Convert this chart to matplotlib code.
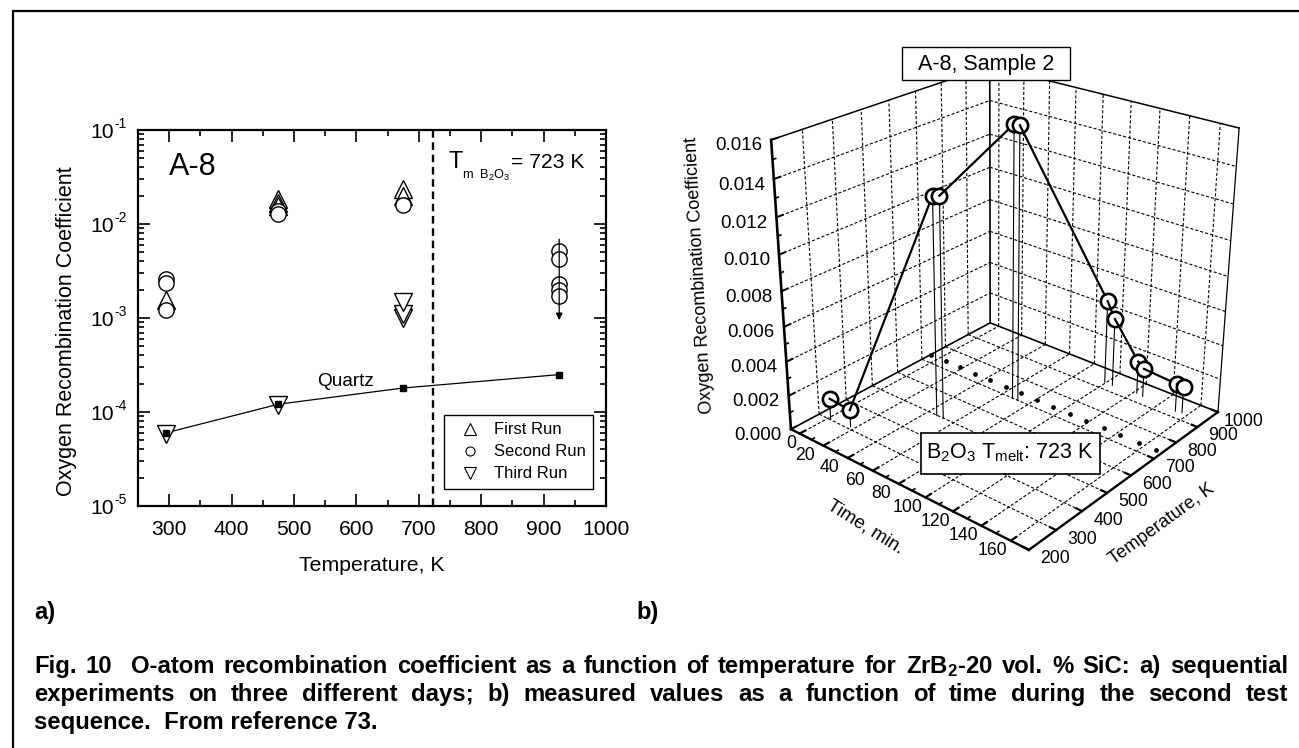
import numpy as np
import matplotlib
matplotlib.use('Agg')
import matplotlib.pyplot as plt
from matplotlib.lines import Line2D
from matplotlib.ticker import FixedLocator, NullFormatter, FuncFormatter

plt.rcParams['font.family'] = ['Liberation Sans', 'DejaVu Sans']
plt.rcParams['mathtext.fontset'] = 'custom'
plt.rcParams['mathtext.rm'] = 'Liberation Sans'
plt.rcParams['mathtext.it'] = 'Liberation Sans'
plt.rcParams['mathtext.bf'] = 'Liberation Sans:bold'
plt.rcParams['mathtext.default'] = 'regular'

# panel a)
first_t = [295, 475, 475, 475, 675, 675]
first_g = [1.57e-3, 1.83e-2, 1.69e-2, 1.55e-2, 2.37e-2, 1.98e-2]
second_t = [295, 295, 295, 475, 475, 675, 925, 925, 925, 925, 925]
second_g = [2.58e-3, 2.34e-3, 1.23e-3, 1.37e-2, 1.29e-2, 1.59e-2,
            5.16e-3, 4.27e-3, 2.28e-3, 1.98e-3, 1.71e-3]
third_t = [295, 475, 675, 675, 675]
third_g = [5.9e-5, 1.18e-4, 1.0e-3, 1.09e-3, 1.47e-3]
quartz_t = [295, 475, 675, 925]
quartz_g = [6.0e-5, 1.21e-4, 1.8e-4, 2.5e-4]
melt_temp = 723

# panel b)
seq_time = [2, 17, 47, 52, 68, 72, 99, 105, 122, 127, 152, 156]
seq_temp = [302, 310, 498, 499, 700, 701, 934, 933, 942, 938, 930, 935]
seq_gamma = [0.00125, 0.0010, 0.0126, 0.0127, 0.0157, 0.0157,
             0.0050, 0.0041, 0.00195, 0.0017, 0.00165, 0.00155]
melt_time = [-7, 6, 18, 31, 43, 56, 68, 81, 93, 106, 118, 131, 143, 156, 168]
melt_line = [735] * len(melt_time)
time_ticks = [0, 20, 40, 60, 80, 100, 120, 140, 160]
temp_ticks = [200, 300, 400, 500, 600, 700, 800, 900, 1000]
gamma_ticks = [0.000, 0.002, 0.004, 0.006, 0.008, 0.010, 0.012, 0.014, 0.016]

W, H = 1299, 748
fig = plt.figure(figsize=(W / 100, H / 100), dpi=100)

# pixel overlay for the frame, the captions and the 3d panel
pix = fig.add_axes([0, 0, 1, 1], zorder=1)
pix.set_xlim(0, W)
pix.set_ylim(H, 0)
pix.axis('off')
pix.patch.set_alpha(0)

pix.plot([13, 13, W], [H, 11, 11], color='k', lw=1.6, solid_joinstyle='miter')

# ---- a)
left, right, top, bottom = 138, 606, 130, 506
ax = fig.add_axes([left / W, 1 - bottom / H, (right - left) / W, (bottom - top) / H], zorder=2)
ax.patch.set_alpha(0)
ax.set_yscale('log')
ax.set_xlim(250, 1000)
ax.set_ylim(1e-5, 1e-1)
for s in ax.spines.values():
    s.set_linewidth(1.6)
decades = [1e-5, 1e-4, 1e-3, 1e-2, 1e-1]
ax.xaxis.set_major_locator(FixedLocator(range(300, 1001, 100)))
ax.xaxis.set_minor_locator(FixedLocator(range(250, 1001, 100)))
ax.yaxis.set_major_locator(FixedLocator(decades))
ax.yaxis.set_minor_locator(FixedLocator(
    [m * 10.0 ** e for e in range(-5, -1) for m in range(2, 10)]))
ax.yaxis.set_minor_formatter(NullFormatter())
ax.yaxis.set_major_formatter(FuncFormatter(lambda v, _: '10'))
ax.tick_params(which='major', direction='in', top=True, right=True,
               length=8.4, width=1.2, labelsize=15.2)
ax.tick_params(which='minor', direction='in', top=True, right=True,
               length=4.5, width=1.2)
ax.tick_params(axis='x', which='major', pad=10)
ax.tick_params(axis='y', which='major', pad=17)
for v in decades:
    ax.annotate('-%d' % round(-np.log10(v)), xy=(0, v), xycoords=('axes fraction', 'data'),
                xytext=(-24, 6), textcoords='offset pixels', fontsize=10,
                ha='left', va='center')
ax.set_xlabel('Temperature, K', fontsize=15.3)
ax.xaxis.set_label_coords(0.5, -(556 - bottom) / (bottom - top))
ax.set_ylabel('Oxygen Recombination Coefficient', fontsize=15.5)
ax.yaxis.set_label_coords(-(left - 77) / (right - left), (bottom - 331) / (bottom - top))

ax.plot(quartz_t, quartz_g, color='k', lw=0.9)
ax.plot(first_t, first_g, ls='', marker='^', ms=13.5, mfc='none', mec='k', mew=1)
for x, y in zip(second_t, second_g):
    ax.plot(x, y, ls='', marker='o', ms=11, mfc='w', mec='k', mew=1)
for x, y in zip(third_t, third_g):
    ax.plot(x, y, ls='', marker='v', ms=13.5, mfc='w', mec='k', mew=1)
ax.plot(quartz_t, quartz_g, ls='', marker='s', ms=5, color='k')
ax.axvline(melt_temp, color='k', lw=1.7, dashes=(3.2, 2))
ax.annotate('', xy=(925, 9.5e-4), xytext=(925, 6.9e-3),
            arrowprops=dict(arrowstyle='-|>', color='k', lw=0.9, shrinkA=0, shrinkB=0))

ax.text(192.5, 167, 'A-8', transform=pix.transData, fontsize=22, ha='center', va='center')
ax.text(449, 162, 'T', transform=pix.transData, fontsize=17, ha='left', va='center')
ax.text(462, 175, 'm  B$_2$O$_3$', transform=pix.transData, fontsize=9.2, ha='left', va='center')
ax.text(511, 162, '= 723 K', transform=pix.transData, fontsize=15.2, ha='left', va='center')
ax.text(346, 381, 'Quartz', transform=pix.transData, fontsize=13.7, ha='center', va='center')

handles = [Line2D([], [], ls='', marker=m, ms=ms, mfc='none', mec='k', mew=0.8)
           for m, ms in (('^', 8), ('o', 6.5), ('v', 8))]
leg = ax.legend(handles, ['First Run', 'Second Run', 'Third Run'], fontsize=12,
                loc='lower right', bbox_to_anchor=((593 - left) / (right - left), (bottom - 489) / (bottom - top)),
                borderaxespad=0, fancybox=False, framealpha=1, edgecolor='k',
                handletextpad=0.3, labelspacing=0.42, borderpad=0.45, handlelength=2.2)
leg.get_frame().set_linewidth(1)

# ---- b) projected by hand from the seven visible box corners
t_min, t_max = -7.5, 172.0
temp_min, temp_max = 200.0, 1000.0
g_max = 0.016
corners_world = [(0, 0, 0), (1, 0, 0), (1, 1, 0), (0, 1, 0), (0, 0, 1), (1, 1, 1), (0, 1, 1)]
corners_pix = [(791, 429), (1029, 550), (1218, 412), (990, 323), (771, 140), (1239, 128), (990, 66)]
rows, rhs = [], []
for (X, Y, Z), (px, py) in zip(corners_world, corners_pix):
    rows.append([X, Y, Z, 1, 0, 0, 0, 0, -px * X, -px * Y, -px * Z])
    rows.append([0, 0, 0, 0, X, Y, Z, 1, -py * X, -py * Y, -py * Z])
    rhs += [px, py]
p = np.linalg.lstsq(np.array(rows, float), np.array(rhs, float), rcond=None)[0]


def proj(t, temp, g):
    X = (np.asarray(t, float) - t_min) / (t_max - t_min)
    Y = (np.asarray(temp, float) - temp_min) / (temp_max - temp_min)
    Z = np.asarray(g, float) / g_max
    w = p[8] * X + p[9] * Y + p[10] * Z + 1
    return ((p[0] * X + p[1] * Y + p[2] * Z + p[3]) / w,
            (p[4] * X + p[5] * Y + p[6] * Z + p[7]) / w)


def seg(a, b, **kw):
    xa, ya = proj(*a)
    xb, yb = proj(*b)
    pix.plot([xa, xb], [ya, yb], color='k', **kw)


grid = dict(lw=0.8, dashes=(2.8, 1.8))
for t in time_ticks:
    seg((t, temp_min, 0), (t, temp_max, 0), **grid)
    seg((t, temp_max, 0), (t, temp_max, g_max), **grid)
for temp in temp_ticks[1:-1]:
    seg((t_min, temp, 0), (t_max, temp, 0), **grid)
    seg((t_min, temp, 0), (t_min, temp, g_max), **grid)
for g in gamma_ticks[1:-1]:
    seg((t_min, temp_min, g), (t_min, temp_max, g), **grid)
    seg((t_min, temp_max, g), (t_max, temp_max, g), **grid)

# box edges
seg((t_min, temp_min, 0), (t_min, temp_max, 0), lw=1.2)
seg((t_min, temp_max, 0), (t_max, temp_max, 0), lw=1.2)
seg((t_min, temp_min, 0), (t_max, temp_min, 0), lw=1.7)
seg((t_max, temp_min, 0), (t_max, temp_max, 0), lw=1.7)
seg((t_min, temp_min, 0), (t_min, temp_min, g_max), lw=1.9)
seg((t_min, temp_max, 0), (t_min, temp_max, g_max), lw=1.2)
seg((t_max, temp_max, 0), (t_max, temp_max, g_max), lw=0.9)
seg((t_min, temp_min, g_max), (t_min, temp_max, g_max), lw=1.1)
seg((t_min, temp_max, g_max), (t_max, temp_max, g_max), lw=1.1)

# ticks and labels
for t in time_ticks:
    seg((t, temp_min, 0), (t, temp_min + 18, 0), lw=1.6)
    x, y = proj(t, temp_min, 0)
    pix.text(x - (8 if t == 0 else 18), y + 10, str(t), fontsize=12.7, ha='center', va='center')
for t in time_ticks[:-1]:
    seg((t + 10, temp_min, 0), (t + 10, temp_min + 10, 0), lw=1.2)
for temp in temp_ticks:
    seg((t_max, temp, 0), (t_max - 4, temp, 0), lw=1.6)
    x, y = proj(t_max, temp, 0)
    pix.text(x + 26, y + 9, str(temp), fontsize=12.7, ha='center', va='center')
for g in gamma_ticks:
    seg((t_min, temp_min, g), (t_min, temp_min + 20, g), lw=1.4)
    x, y = proj(t_min, temp_min, g)
    pix.text(x - 9, y + 6, '%.3f' % g, fontsize=13.5, ha='right', va='center')
for g in gamma_ticks[:-1]:
    seg((t_min, temp_min, g + 0.001), (t_min, temp_min + 10, g + 0.001), lw=1.2)

pix.text(700, 275, 'Oxygen Recombination Coefficient', fontsize=13, rotation=93.3,
         ha='center', va='center', rotation_mode='anchor')
pix.text(865, 527, 'Time, min.', fontsize=13.5, rotation=-32,
         ha='center', va='center', rotation_mode='anchor')
pix.text(1162, 524, 'Temperature, K', fontsize=13.2, rotation=36,
         ha='center', va='center', rotation_mode='anchor')

# melting line on the floor
mx, my = proj(melt_time, melt_line, [0] * len(melt_time))
pix.plot(mx, my, ls='', marker='o', ms=2.4, color='k')

# drop lines, then circles and line segments in measurement order
for t, temp, g in zip(seq_time, seq_temp, seq_gamma):
    seg((t, temp, 0), (t, temp, g), lw=0.8)
sx, sy = proj(seq_time, seq_temp, seq_gamma)
for i in range(len(sx)):
    pix.plot(sx[i], sy[i], ls='', marker='o', ms=11, mfc='w', mec='k', mew=1.9)
    if i + 1 < len(sx):
        pix.plot(sx[i:i + 2], sy[i:i + 2], color='k', lw=1.6)

pix.add_patch(plt.Rectangle((902, 47), 168, 33, fc='w', ec='k', lw=1, zorder=5))
pix.text(986, 64, 'A-8, Sample 2', fontsize=15.5, ha='center', va='center', zorder=6)
pix.add_patch(plt.Rectangle((921, 433), 179, 41, fc='w', ec='k', lw=1.2, zorder=5))
pix.text(1010, 453, r'B$_2$O$_3$ T$_{melt}$: 723 K', fontsize=15.5, ha='center', va='center', zorder=6)

# ---- captions
pix.text(34, 613, 'a)', fontsize=17, fontweight='bold', ha='left', va='center')
pix.text(636, 613, 'b)', fontsize=17, fontweight='bold', ha='left', va='center')

caption = [
    ('Fig. 10  O-atom recombination coefficient as a function of temperature for '
     'ZrB$_{\\mathbf{2}}$-20 vol. % SiC: a) sequential', 667, True),
    ('experiments on three different days; b) measured values as a function of time '
     'during the second test', 695, True),
    ('sequence.  From reference 73.', 722, False),
]
renderer = fig.canvas.get_renderer()
cap_left, cap_right = 34, 1288
for line, y, justify in caption:
    if not justify:
        pix.text(cap_left, y, line, fontsize=17.2, fontweight='bold', ha='left', va='center')
        continue
    words = line.split(' ')
    widths = []
    items = []
    for w in words:
        tx = pix.text(cap_left, y, w, fontsize=17.2, fontweight='bold', ha='left', va='baseline')
        tx.set_y(y + 6)
        items.append(tx)
        widths.append(tx.get_window_extent(renderer).width if w else 0)
    gap = (cap_right - cap_left - sum(widths)) / (len(words) - 1)
    x = cap_left
    for tx, wd in zip(items, widths):
        tx.set_x(x)
        x += wd + gap

fig.savefig('out.png', dpi=100)
